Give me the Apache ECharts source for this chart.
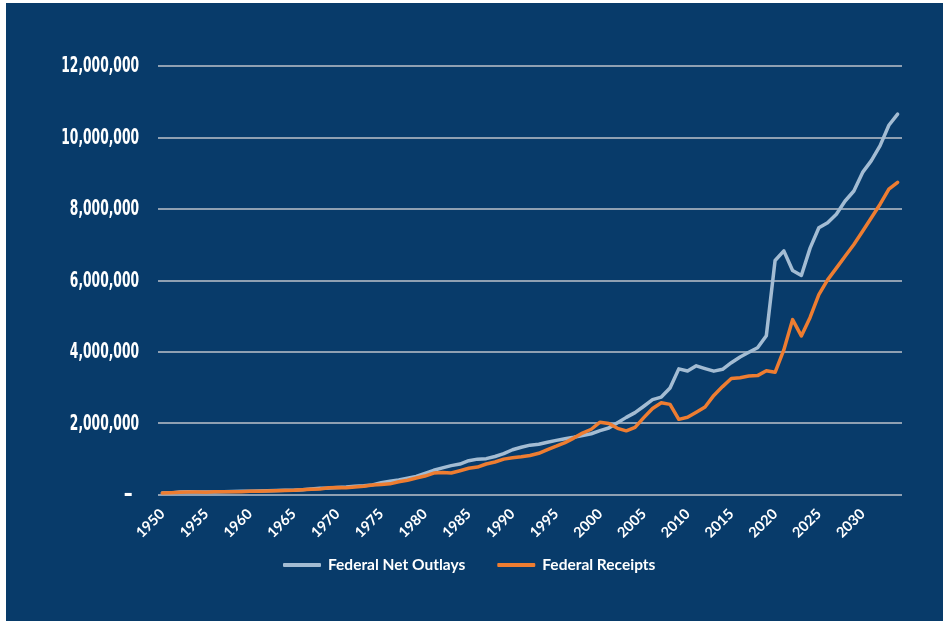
<!DOCTYPE html>
<html>
<head>
<meta charset="utf-8">
<script src="https://cdn.jsdelivr.net/npm/echarts@6/dist/echarts.min.js"></script>
<style>
  html, body { margin: 0; padding: 0; background: #ffffff; width: 943px; height: 621px; overflow: hidden; }
  #chart { position: absolute; left: 6px; top: 3px; width: 937px; height: 618px; }
</style>
</head>
<body>
<div id="chart"></div>
<script>
// Fiscal years 1950-2034
const years = [];
for (let y = 1950; y <= 2034; y++) years.push(String(y));

// Federal Net Outlays (millions of dollars)
const outlays = [
  42562, 45514, 67686, 76101, 70855, 68444, 70640, 76578, 82405, 92098,
  92191, 97723, 106821, 111316, 118528, 118228, 134532, 157464, 178134, 183640,
  195649, 210172, 230681, 245707, 269359, 332332, 371792, 409218, 458746, 504028,
  590941, 678241, 745743, 808364, 851805, 946344, 990382, 1004017, 1064416, 1143743,
  1252993, 1324226, 1381529, 1409386, 1461752, 1515742, 1560484, 1601116, 1652458, 1701842,
  1788950, 1862846, 2010894, 2159899, 2292841, 2471957, 2655050, 2728686, 2982544, 3517677,
  3457079, 3603065, 3526563, 3454881, 3506284, 3691850, 3852615, 3981630, 4109042, 4446960,
  6553603, 6822470, 6273259, 6134672, 6900000, 7470000, 7610000, 7850000, 8220000, 8500000,
  9020000, 9350000, 9770000, 10340000, 10650000
];

// Federal Receipts (millions of dollars)
const receipts = [
  39443, 51616, 66167, 69608, 69701, 65451, 74587, 79990, 79636, 79249,
  92492, 94388, 99676, 106560, 112613, 116817, 130835, 148822, 152973, 186882,
  192807, 187139, 207309, 230799, 263224, 279090, 298060, 355559, 399561, 463302,
  517112, 599272, 617766, 600562, 666438, 734037, 769155, 854288, 909238, 991104,
  1031958, 1054988, 1091208, 1154334, 1258566, 1351790, 1453053, 1579232, 1721728, 1827452,
  2025191, 1991082, 1853136, 1782314, 1880114, 2153611, 2406869, 2567985, 2523991, 2104989,
  2162706, 2303466, 2449990, 2775106, 3021491, 3249890, 3267965, 3316184, 3329904, 3463364,
  3421164, 4047111, 4897399, 4441947, 4960000, 5600000, 6010000, 6340000, 6670000, 7000000,
  7370000, 7750000, 8130000, 8550000, 8740000
];

const seriesNames = ['Federal Net Outlays', 'Federal Receipts'];
const yTicks = [0, 2000000, 4000000, 6000000, 8000000, 10000000, 12000000];
const yTickLabels = ['-', '2,000,000', '4,000,000', '6,000,000', '8,000,000', '10,000,000', '12,000,000'];

const chart = echarts.init(document.getElementById('chart'), null, { renderer: 'canvas' });
chart.setOption({
  backgroundColor: '#083b6a',
  animation: false,
  grid: { left: 152, right: 41, top: 63, bottom: 126.5, containLabel: false },
  legend: {
    data: seriesNames,
    top: 554,
    left: 277,
    padding: 0,
    icon: 'roundRect',
    itemWidth: 38,
    itemHeight: 4,
    itemGap: 32,
    textStyle: { color: '#ffffff', fontFamily: 'Lato', fontWeight: 'bold', fontSize: 15.5, padding: [0, 0, 0, 2] }
  },
  xAxis: {
    type: 'category',
    data: years,
    boundaryGap: true,
    axisLine: { show: false },
    axisTick: { show: false },
    axisLabel: {
      interval: 4,
      rotate: 45,
      margin: 17,
      color: '#ffffff',
      fontFamily: 'Lato',
      fontWeight: 'bold',
      fontSize: 14.5
    },
    splitLine: { show: false }
  },
  yAxis: {
    type: 'value',
    min: yTicks[0],
    max: yTicks[yTicks.length - 1],
    interval: 2000000,
    axisLine: { show: false },
    axisTick: { show: false },
    axisLabel: { show: false },
    splitLine: { show: true, lineStyle: { color: '#bcc3cb', width: 1.5 } }
  },
  series: [
    {
      name: seriesNames[0],
      type: 'line',
      data: outlays,
      showSymbol: false,
      symbol: 'none',
      itemStyle: { color: '#a3bcd3' },
      lineStyle: { color: '#a3bcd3', width: 3.5, cap: 'round', join: 'round' }
    },
    {
      name: seriesNames[1],
      type: 'line',
      data: receipts,
      showSymbol: false,
      symbol: 'none',
      itemStyle: { color: '#ee7d31' },
      lineStyle: { color: '#ee7d31', width: 3.5, cap: 'round', join: 'round' }
    }
  ]
});

// Narrow (condensed) y-axis tick labels, positioned through the axis scale
const gridLeft = chart.convertToPixel({ xAxisIndex: 0 }, years[0]) - (chart.convertToPixel({ xAxisIndex: 0 }, years[1]) - chart.convertToPixel({ xAxisIndex: 0 }, years[0])) / 2;
const labelElems = yTicks.map(function (v, i) {
  const py = chart.convertToPixel({ yAxisIndex: 0 }, v);
  const isZero = v === 0;
  return {
    type: 'text',
    x: gridLeft - (isZero ? 25 : 19),
    y: py + 1,
    scaleX: isZero ? 1.2 : 0.65,
    silent: true,
    style: {
      text: yTickLabels[i],
      fill: '#ffffff',
      font: 'bold 21px "DejaVu Sans Condensed", "DejaVu Sans", sans-serif',
      align: 'right',
      verticalAlign: 'middle'
    }
  };
});
chart.setOption({ graphic: labelElems });
</script>
</body>
</html>
